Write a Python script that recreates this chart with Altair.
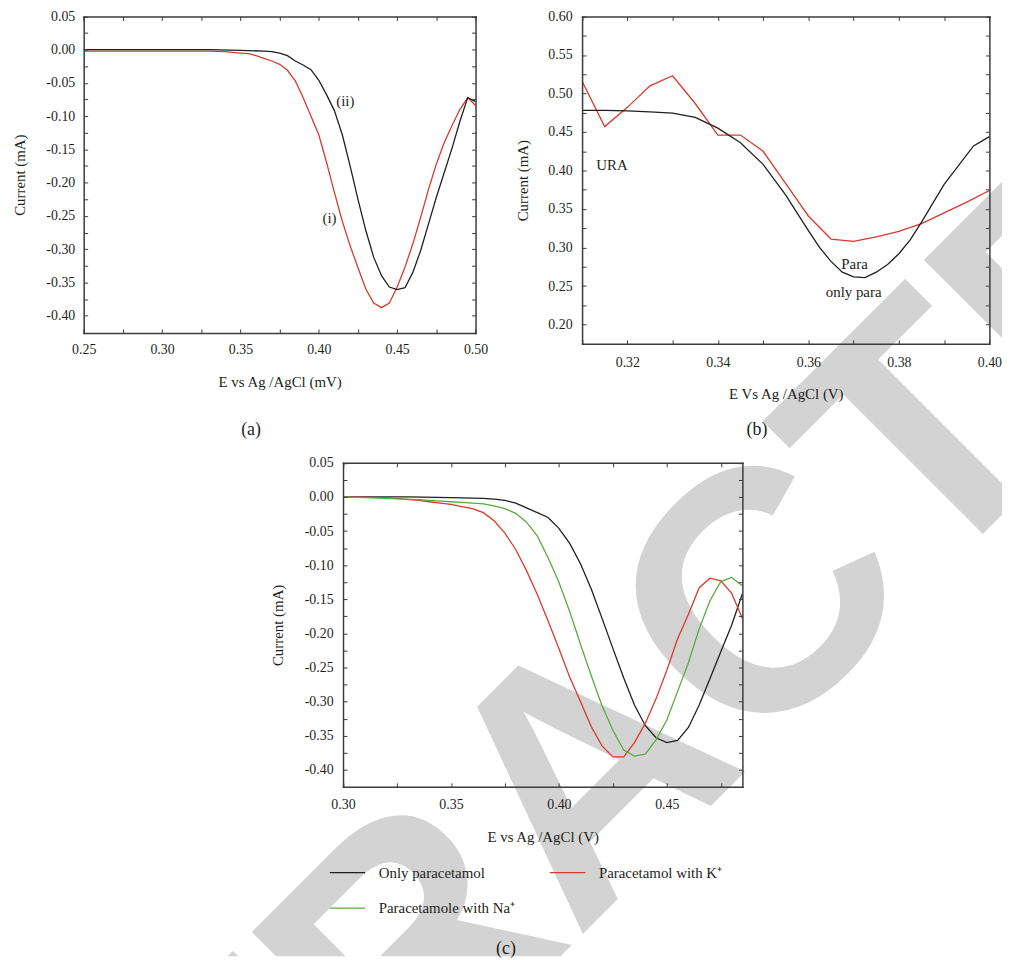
import altair as alt
import pandas as pd

FONT = "Liberation Serif"
INK = "#231f20"
FRAME = "#3b3b3b"
RED = "#d93a2b"
GREEN = "#5aaa3c"
BLACK = "#1f1f1f"
GREY = "#d3d3d3"
WATERMARK = "RETRACTED"

# ---------------- panel (a) ----------------
a_ii_x = [0.25, 0.30, 0.33, 0.35, 0.365, 0.37, 0.375, 0.38, 0.385, 0.39, 0.395, 0.40, 0.405,
          0.41, 0.415, 0.42, 0.425, 0.43, 0.435, 0.44, 0.445, 0.45, 0.455, 0.46, 0.465, 0.47,
          0.475, 0.48, 0.485, 0.49, 0.495, 0.50]
a_ii_y = [0.0, 0.0, 0.0, -0.001, -0.002, -0.003, -0.005, -0.009, -0.017, -0.023, -0.030, -0.046,
          -0.068, -0.092, -0.128, -0.175, -0.225, -0.272, -0.312, -0.340, -0.357, -0.361, -0.358,
          -0.335, -0.302, -0.262, -0.222, -0.185, -0.148, -0.108, -0.072, -0.078]
a_i_x = [0.25, 0.33, 0.34, 0.345, 0.35, 0.355, 0.36, 0.365, 0.37, 0.375, 0.38, 0.385, 0.39, 0.395,
         0.40, 0.405, 0.41, 0.415, 0.42, 0.425, 0.43, 0.435, 0.44, 0.445, 0.45, 0.455, 0.46, 0.465,
         0.47, 0.475, 0.48, 0.485, 0.49, 0.495, 0.50]
a_i_y = [-0.002, -0.002, -0.003, -0.004, -0.005, -0.006, -0.009, -0.013, -0.017, -0.022, -0.031,
         -0.047, -0.072, -0.100, -0.128, -0.170, -0.215, -0.258, -0.295, -0.328, -0.360, -0.381,
         -0.388, -0.381, -0.357, -0.327, -0.292, -0.252, -0.210, -0.172, -0.140, -0.114, -0.090,
         -0.072, -0.084]
a_names = ["(i)", "(ii)"]
a_notes = ["(ii)", "(i)"]
a_notes_x = [0.4169, 0.4068]
a_notes_y = [-0.0776, -0.2537]
a_xlabels = [0.25, 0.30, 0.35, 0.40, 0.45, 0.50]
a_xticks = [0.25, 0.275, 0.30, 0.325, 0.35, 0.375, 0.40, 0.425, 0.45, 0.475, 0.50]
a_ylabels = [0.05, 0.0, -0.05, -0.10, -0.15, -0.20, -0.25, -0.30, -0.35, -0.40]
a_yticks = [0.05, 0.025, 0.0, -0.025, -0.05, -0.075, -0.10, -0.125, -0.15, -0.175, -0.20,
            -0.225, -0.25, -0.275, -0.30, -0.325, -0.35, -0.375, -0.40]

# ---------------- panel (b) ----------------
b_only_x = [0.31, 0.315, 0.32, 0.325, 0.33, 0.335, 0.34, 0.345, 0.35, 0.355, 0.36, 0.3625, 0.365,
            0.3675, 0.37, 0.3725, 0.375, 0.3775, 0.38, 0.3825, 0.385, 0.39, 0.3965, 0.40]
b_only_y = [0.478, 0.478, 0.4775, 0.476, 0.4745, 0.469, 0.455, 0.436, 0.408, 0.368, 0.322, 0.300,
            0.282, 0.268, 0.262, 0.261, 0.268, 0.278, 0.292, 0.310, 0.333, 0.382, 0.432, 0.444]
b_ura_x = [0.31, 0.315, 0.32, 0.325, 0.33, 0.335, 0.34, 0.345, 0.35, 0.355, 0.36, 0.365, 0.37,
           0.375, 0.38, 0.385, 0.39, 0.395, 0.40]
b_ura_y = [0.516, 0.457, 0.482, 0.510, 0.523, 0.487, 0.446, 0.446, 0.425, 0.383, 0.341, 0.311,
           0.308, 0.314, 0.321, 0.331, 0.345, 0.359, 0.374]
b_names = ["URA", "only para"]
b_notes = ["URA", "Para", "only para"]
b_notes_x = [0.3166, 0.3702, 0.3700]
b_notes_y = [0.4073, 0.2785, 0.2420]
b_xlabels = [0.32, 0.34, 0.36, 0.38, 0.40]
b_xticks = [0.31, 0.32, 0.33, 0.34, 0.35, 0.36, 0.37, 0.38, 0.39, 0.40]
b_ylabels = [0.60, 0.55, 0.50, 0.45, 0.40, 0.35, 0.30, 0.25, 0.20]
b_yticks = [0.60, 0.575, 0.55, 0.525, 0.50, 0.475, 0.45, 0.425, 0.40, 0.375, 0.35, 0.325, 0.30,
            0.275, 0.25, 0.225, 0.20]

# ---------------- panel (c) ----------------
c_only_x = [0.30, 0.33, 0.35, 0.365, 0.37, 0.375, 0.38, 0.385, 0.39, 0.395, 0.40, 0.405, 0.41,
            0.415, 0.42, 0.425, 0.43, 0.435, 0.44, 0.445, 0.45, 0.455, 0.46, 0.465, 0.47, 0.475,
            0.48, 0.485]
c_only_y = [0.0, 0.0, -0.001, -0.002, -0.003, -0.005, -0.009, -0.016, -0.023, -0.030, -0.046,
            -0.068, -0.098, -0.135, -0.178, -0.222, -0.265, -0.305, -0.335, -0.353, -0.360,
            -0.357, -0.338, -0.305, -0.266, -0.227, -0.188, -0.142]
c_ion_x = [0.30, 0.32, 0.335, 0.34, 0.345, 0.35, 0.355, 0.36, 0.365, 0.37, 0.375, 0.38, 0.385,
           0.39, 0.395, 0.40, 0.405, 0.41, 0.415, 0.42, 0.425, 0.43, 0.435, 0.44, 0.445, 0.45,
           0.455, 0.46, 0.465, 0.47, 0.475, 0.48, 0.485]
c_k_y = [0.0, -0.001, -0.005, -0.007, -0.009, -0.011, -0.014, -0.017, -0.023, -0.035, -0.053,
         -0.077, -0.108, -0.143, -0.182, -0.222, -0.264, -0.300, -0.337, -0.365, -0.381, -0.381,
         -0.360, -0.332, -0.296, -0.254, -0.208, -0.172, -0.133, -0.119, -0.123, -0.141, -0.178]
c_na_y = [0.0, -0.002, -0.004, -0.005, -0.006, -0.007, -0.008, -0.009, -0.010, -0.013, -0.017,
          -0.024, -0.037, -0.057, -0.089, -0.125, -0.168, -0.216, -0.262, -0.306, -0.342, -0.371,
          -0.380, -0.377, -0.356, -0.327, -0.285, -0.243, -0.193, -0.152, -0.124, -0.118, -0.130]
c_names = ["Only paracetamol", "Paracetamol with K\u207a", "Paracetamole with Na\u207a"]
c_xlabels = [0.30, 0.35, 0.40, 0.45]
c_xticks = [0.30, 0.325, 0.35, 0.375, 0.40, 0.425, 0.45, 0.475]
c_ylabels = a_ylabels
c_yticks = a_yticks

panel_tags = ["(a)", "(b)", "(c)"]

# whole figure is one layered view; each panel gets its own scales placed by pixel ranges
VW, VH = 1002, 952
LABEL_EXPR = "(datum.value < -1e-9 ? '-' : '') + format(abs(datum.value), '.2f')"


def series_df(items):
    rows = []
    for name, xs, ys in items:
        for xv, yv in zip(xs, ys):
            rows.append({"x": xv, "y": yv, "s": name})
    return pd.DataFrame(rows)


def panel_layers(df, names, colors, xdom, ydom, xr, yr, xlabels, ylabels, xticks, yticks,
                 xtitle, ytitle, notes=None, legend=None, xlab_pad=10, ylab_pad=9,
                 xtitle_pad=18, ytitle_pad=18):
    X0, X1 = xr
    Y0, Y1 = yr
    xs = alt.Scale(domain=xdom, range=[X0, X1], nice=False, zero=False)
    ys = alt.Scale(domain=ydom, range=[Y1, Y0], nice=False, zero=False)
    frame = dict(domain=True, domainColor=FRAME, domainWidth=1.5, domainCap="square",
                 grid=False, zindex=1)
    common = dict(labelFont=FONT, labelFontSize=14, labelColor=INK, titleFont=FONT,
                  titleFontSize=15, titleColor=INK, titleFontWeight="normal",
                  labelFlush=False, labelOverlap=False, labelExpr=LABEL_EXPR, ticks=False,
                  **frame)
    x_main = alt.Axis(orient="bottom", offset=Y1 - VH, values=xlabels, labelPadding=xlab_pad,
                      title=xtitle, titlePadding=xtitle_pad, **common)
    y_main = alt.Axis(orient="left", offset=-X0, values=ylabels, labelPadding=ylab_pad,
                      title=ytitle, titlePadding=ytitle_pad, **common)
    lines = alt.Chart(df).mark_line(strokeWidth=1.3, clip=True).encode(
        x=alt.X("x:Q", scale=xs, axis=x_main),
        y=alt.Y("y:Q", scale=ys, axis=y_main),
        color=alt.Color("s:N", scale=alt.Scale(domain=names, range=colors), legend=legend),
    )
    tick_style = dict(labels=False, ticks=True, tickSize=4, tickWidth=1, tickColor=FRAME,
                      title="", grid=False, zindex=1)
    # inward ticks on left + bottom edges
    t_in1 = alt.Chart(df).mark_line(opacity=0).encode(
        x=alt.X("x:Q", scale=xs, axis=alt.Axis(orient="top", offset=-Y1, values=xticks,
                                                domain=False, **tick_style)),
        y=alt.Y("y:Q", scale=ys, axis=alt.Axis(orient="right", offset=X0 - VW, values=yticks,
                                                domain=False, **tick_style)),
    )
    # top + right frame edges with inward ticks
    t_in2 = alt.Chart(df).mark_line(opacity=0).encode(
        x=alt.X("x:Q", scale=xs, axis=alt.Axis(orient="bottom", offset=Y0 - VH, values=xticks,
                                                domain=True, domainColor=FRAME, domainWidth=1.5,
                                                domainCap="square", **tick_style)),
        y=alt.Y("y:Q", scale=ys, axis=alt.Axis(orient="left", offset=-X1, values=yticks,
                                                domain=True, domainColor=FRAME, domainWidth=1.5,
                                                domainCap="square", **tick_style)),
    )
    layers = [lines]
    if notes is not None:
        layers.append(
            alt.Chart(notes).mark_text(font=FONT, fontSize=15, color=INK, align="center",
                                       baseline="middle").encode(
                x=alt.X("x:Q", scale=xs, axis=None),
                y=alt.Y("y:Q", scale=ys, axis=None),
                text="t:N",
            )
        )
    layers += [t_in1, t_in2]
    return layers


df_a = series_df([("(i)", a_i_x, a_i_y), ("(ii)", a_ii_x, a_ii_y)])
notes_a = pd.DataFrame({"x": a_notes_x, "y": a_notes_y, "t": a_notes})
la = panel_layers(df_a, a_names, [RED, BLACK], [0.25, 0.50], [-0.426, 0.05], [76.3, 471.3],
                  [4.7, 323.7], a_xlabels, a_ylabels, a_xticks, a_yticks,
                  "E vs Ag /AgCl (mV)", "Current (mA)", notes=notes_a,
                  xlab_pad=10, ylab_pad=9, xtitle_pad=18, ytitle_pad=19)

df_b = series_df([("URA", b_ura_x, b_ura_y), ("only para", b_only_x, b_only_y)])
notes_b = pd.DataFrame({"x": b_notes_x, "y": b_notes_y, "t": b_notes})
lb = panel_layers(df_b, b_names, [RED, BLACK], [0.31, 0.40], [0.175, 0.60], [578.7, 989.3],
                  [4.7, 334.7], b_xlabels, b_ylabels, b_xticks, b_yticks,
                  "E Vs Ag /AgCl (V)", "Current (mA)", notes=notes_b,
                  xlab_pad=11.5, ylab_pad=10, xtitle_pad=18, ytitle_pad=17.5)

df_c = series_df([(c_names[0], c_only_x, c_only_y), (c_names[1], c_ion_x, c_k_y),
                  (c_names[2], c_ion_x, c_na_y)])
legend_c = alt.Legend(title=None, orient="none", legendX=323.7, legendY=849, columns=2,
                      direction="horizontal", symbolType="stroke", symbolSize=1267,
                      symbolStrokeWidth=1.3, labelFont=FONT, labelFontSize=15, labelColor=INK,
                      labelOffset=13, columnPadding=32, rowPadding=9, padding=0,
                      labelLimit=400)
lc = panel_layers(df_c, c_names, [BLACK, RED, GREEN], [0.30, 0.485], [-0.425, 0.05],
                  [337.7, 740.3], [454.7, 781.3], c_xlabels, c_ylabels, c_xticks, c_yticks,
                  "E vs Ag /AgCl (V)", "Current (mA)", legend=legend_c,
                  xlab_pad=10.5, ylab_pad=10, xtitle_pad=19, ytitle_pad=19)

watermark = alt.Chart(pd.DataFrame({"t": [WATERMARK]})).mark_text(
    font="Liberation Sans", fontWeight="bold", fontSize=345, color=GREY, angle=315,
    align="center", baseline="middle", clip=True,
).encode(x=alt.value(588), y=alt.value(774), text="t:N")

tag_pos = [(245, 422), (755, 422), (502, 945)]
tag_layers = [
    alt.Chart(pd.DataFrame({"t": [tag]})).mark_text(
        font=FONT, fontSize=18, color=INK, align="center", baseline="middle"
    ).encode(x=alt.value(px), y=alt.value(py), text="t:N")
    for tag, (px, py) in zip(panel_tags, tag_pos)
]

chart = alt.layer(watermark, *la, *lb, *lc, *tag_layers).resolve_scale(
    x="independent", y="independent", color="independent"
).resolve_axis(x="independent", y="independent").properties(
    width=VW, height=VH, padding=0, autosize=alt.AutoSizeParams(type="none")
).configure_view(stroke="transparent")

chart.save("out.html", embed_options={"renderer": "svg", "actions": False})
